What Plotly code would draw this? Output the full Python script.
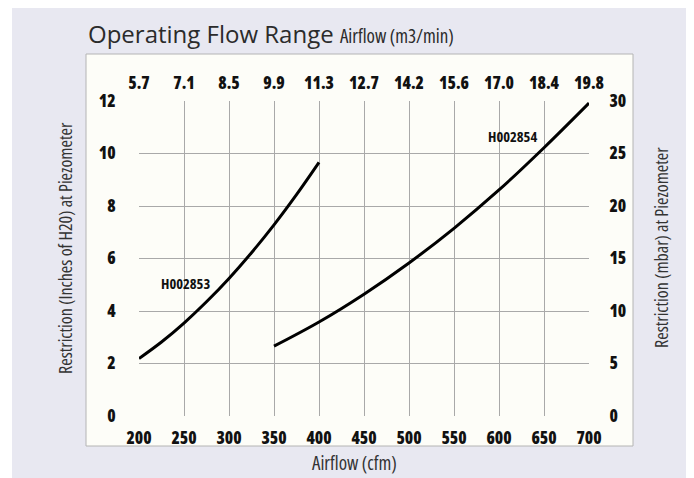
import plotly.graph_objects as go

# ---- data ----
cfm_ticks = [200, 250, 300, 350, 400, 450, 500, 550, 600, 650, 700]
m3min_labels = ["5.7", "7.1", "8.5", "9.9", "11.3", "12.7", "14.2", "15.6", "17.0", "18.4", "19.8"]
inch_ticks = [0, 2, 4, 6, 8, 10, 12]
mbar_ticks = [0, 5, 10, 15, 20, 25, 30]

h2853_cfm = [200, 225, 250, 275, 300, 325, 350, 375, 400]
h2853_val = [2.19, 2.82, 3.54, 4.35, 5.24, 6.22, 7.28, 8.43, 9.66]

h2854_cfm = [350, 400, 450, 500, 550, 600, 650, 700]
h2854_val = [2.66, 3.58, 4.64, 5.83, 7.15, 8.61, 10.22, 11.92]

OFF = 8  # page body margin
W, H = 694 - OFF, 478 - OFF
L, R, T, B = 139 - OFF, 589 - OFF, 101 - OFF, 416 - OFF


def px(x):
    return (x - OFF - L) / (R - L)


def py(y):
    return (B - (y - OFF)) / (B - T)


def cond(s):
    return f"<span style='font-stretch:75%'>{s}</span>"


FAM = "Open Sans, sans-serif"
TICKFONT = dict(family=FAM, size=17, color="#111111", weight=800)
GRID = "#a9a9a9"

fig = go.Figure()
fig.add_trace(go.Scatter(x=h2853_cfm, y=h2853_val, mode="lines",
                         line=dict(color="#000000", width=3, shape="spline"),
                         hoverinfo="skip", showlegend=False))
fig.add_trace(go.Scatter(x=h2854_cfm, y=h2854_val, mode="lines",
                         line=dict(color="#000000", width=3, shape="spline"),
                         hoverinfo="skip", showlegend=False))
fig.add_trace(go.Scatter(x=[cfm_ticks[0], cfm_ticks[-1]], y=[mbar_ticks[0], mbar_ticks[-1]],
                         xaxis="x2", yaxis="y2", mode="lines",
                         line=dict(color="rgba(0,0,0,0)", width=0),
                         hoverinfo="skip", showlegend=False))

fig.update_layout(
    width=W, height=H,
    margin=dict(l=L, r=W - R, t=T, b=H - B, pad=0),
    paper_bgcolor="#ffffff",
    plot_bgcolor="rgba(0,0,0,0)",
    xaxis=dict(range=[200, 700], tickvals=cfm_ticks, ticktext=[cond(v) for v in cfm_ticks],
               showgrid=True, gridcolor=GRID, gridwidth=1, zeroline=False,
               ticks="outside", ticklen=7, tickcolor="rgba(0,0,0,0)",
               tickfont=TICKFONT, showline=False, fixedrange=True),
    yaxis=dict(range=[0, 12], tickvals=inch_ticks, ticktext=[cond(v) for v in inch_ticks],
               showgrid=True, gridcolor=GRID, gridwidth=1, zeroline=False,
               ticks="outside", ticklen=19, tickcolor="rgba(0,0,0,0)",
               tickfont=TICKFONT, showline=False, fixedrange=True),
    xaxis2=dict(range=[200, 700], overlaying="x", side="top", anchor="y",
                tickvals=cfm_ticks, ticktext=[cond(v) for v in m3min_labels],
                showgrid=False, zeroline=False,
                ticks="outside", ticklen=4, tickcolor="rgba(0,0,0,0)",
                tickfont=TICKFONT, fixedrange=True),
    yaxis2=dict(range=[0, 30], overlaying="y", side="right", anchor="x",
                tickvals=mbar_ticks, ticktext=[cond(v) for v in mbar_ticks],
                showgrid=False, zeroline=False,
                ticks="outside", ticklen=16, tickcolor="rgba(0,0,0,0)",
                tickfont=TICKFONT, fixedrange=True),
    shapes=[
        dict(type="rect", xref="paper", yref="paper", layer="below",
             x0=px(12), x1=px(720), y0=py(0), y1=py(500),
             fillcolor="#e8e8f1", line=dict(width=0)),
        dict(type="rect", xref="paper", yref="paper", layer="below",
             x0=px(86), x1=px(633), y0=py(54), y1=py(446),
             fillcolor="#fdfdf8", line=dict(color="#b4b4b4", width=1)),
    ],
    annotations=[
        dict(xref="paper", yref="paper", x=px(86), y=py(33), xanchor="left", yanchor="middle",
             showarrow=False,
             text="Operating Flow Range <span style='font-size:19px;font-stretch:75%'>Airflow (m3/min)</span>",
             font=dict(family=FAM, size=24, color="#2b2b2b")),
        dict(xref="paper", yref="paper", x=px(65), y=py(248), xanchor="center", yanchor="middle",
             showarrow=False, textangle=-90,
             text=cond("Restriction (Inches of H20) at Piezometer"),
             font=dict(family=FAM, size=18, color="#333333")),
        dict(xref="paper", yref="paper", x=px(661), y=py(248), xanchor="center", yanchor="middle",
             showarrow=False, textangle=-90,
             text=cond("Restriction (mbar) at Piezometer"),
             font=dict(family=FAM, size=18, color="#333333")),
        dict(xref="paper", yref="paper", x=px(354), y=py(463), xanchor="center", yanchor="middle",
             showarrow=False, text=cond("Airflow (cfm)"),
             font=dict(family=FAM, size=19, color="#333333")),
        dict(x=252, y=5.03, xref="x", yref="y", showarrow=False, text=cond("H002853"),
             font=dict(family=FAM, size=14.5, color="#111111", weight=700)),
        dict(x=615, y=10.64, xref="x", yref="y", showarrow=False, text=cond("H002854"),
             font=dict(family=FAM, size=14.5, color="#111111", weight=700)),
    ],
)

fig.write_html("out.html")
